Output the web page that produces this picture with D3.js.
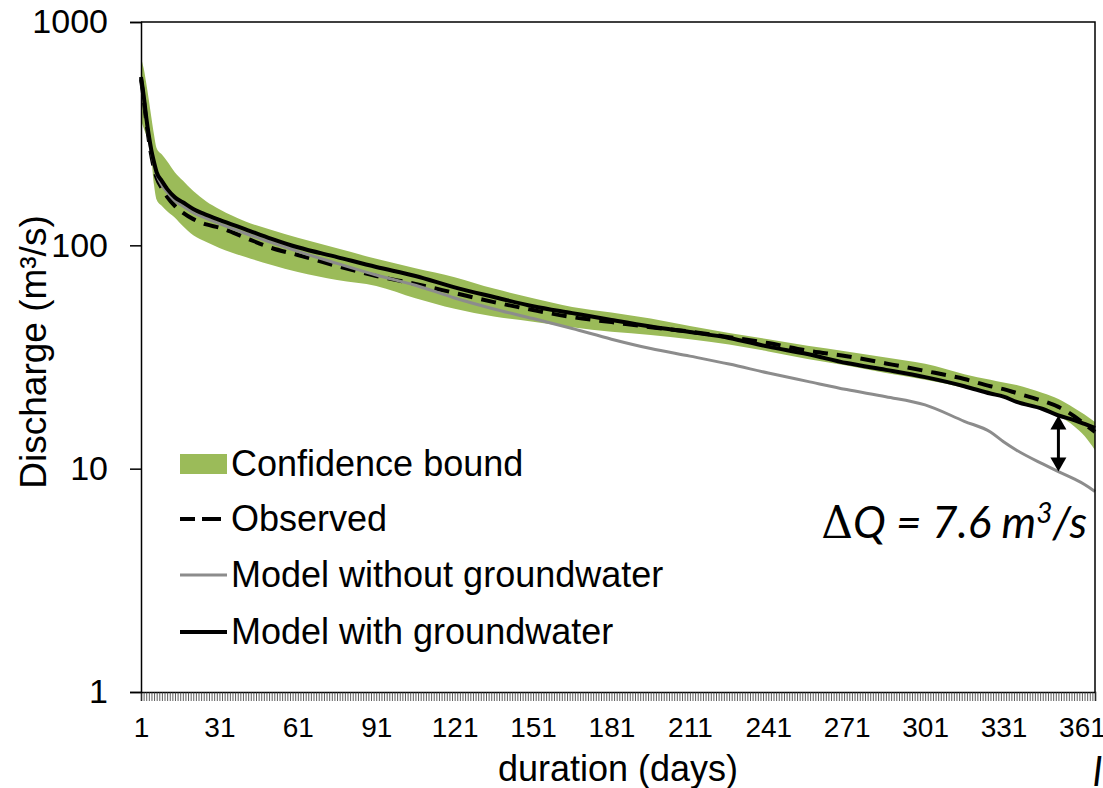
<!DOCTYPE html>
<html>
<head>
<meta charset="utf-8">
<script src="https://cdn.jsdelivr.net/npm/d3@7"></script>
<style>
  html, body { margin: 0; padding: 0; background: #fff; }
  svg { display: block; font-family: "Liberation Sans", Arial, sans-serif; }
</style>
</head>
<body>
<svg id="chart" width="1103" height="788"></svg>
<script>
// Flow duration curve: day of exceedance vs discharge (m3/s)
const days       = [1, 2, 3, 4, 5, 6, 7, 9, 11, 14, 17, 21, 26, 31, 41, 51, 61, 76, 91, 106, 121, 136, 151, 166, 181, 196, 211, 226, 241, 256, 271, 286, 301, 316, 326, 331, 336, 346, 352, 358, 362, 366];
const observed   = [555, 455, 360, 295, 250, 220, 200, 180, 165, 150, 140, 131, 124, 120, 108, 97.3, 90.5, 80.8, 72.9, 67.2, 61.2, 55.7, 51.3, 47.7, 45.3, 43.0, 41.1, 38.8, 36.5, 33.8, 31.9, 29.6, 27.4, 25.2, 23.4, 22.7, 21.8, 20.1, 18.9, 17.2, 15.85, 14.6];
const modelNoGw  = [560, 465, 370, 305, 260, 230, 208, 186, 173, 158, 150, 140, 132, 125, 113, 103, 94, 83, 73.6, 66.3, 58.1, 51.9, 47.0, 42.4, 38.0, 34.5, 31.9, 29.4, 26.8, 24.6, 22.6, 21.0, 19.3, 16.3, 14.6, 13.2, 12.1, 10.5, 9.7, 9.0, 8.5, 7.9];
const modelGw    = [567, 470, 375, 310, 265, 235, 212, 194, 179, 164, 156, 145.5, 137, 130, 118, 107, 98, 88.6, 80, 72.9, 64.8, 58.7, 53.4, 49.7, 46.3, 43.3, 40.9, 38.5, 35.2, 32.6, 29.7, 27.7, 25.7, 23.4, 21.7, 21.0, 19.9, 18.5, 17.3, 16.5, 15.85, 15.2];
const ciUpper    = [690, 622, 533, 448, 372, 312, 272, 255, 238, 212, 195, 175, 157, 145, 128, 117, 108, 97, 87, 79, 72, 64, 58, 53, 50, 47, 43.5, 40.5, 38, 35.5, 33.5, 31.5, 29.5, 26.5, 25, 24.3, 23.7, 21.8, 20.5, 18.7, 17.5, 16.2];
const ciLower    = [364, 335, 312, 290, 241, 186, 160, 150, 142, 133, 122, 111, 103.5, 97.3, 88.6, 81.7, 76, 70, 65.8, 58, 52, 48, 45.5, 43, 41, 39.7, 38, 36, 33.5, 31, 29, 26.8, 25, 23, 21.5, 20.8, 20.2, 18.3, 17.2, 15.5, 14, 12.1];

const yTicks = [1, 10, 100, 1000];
const xTickLabels = [1, 31, 61, 91, 121, 151, 181, 211, 241, 271, 301, 331, 361];
const legendLabels = ["Confidence bound", "Observed", "Model without groundwater", "Model with groundwater"];
const arrowDay = 352;

const green = "#9bbb59", grey = "#8c8c8c", black = "#000";

const svg = d3.select("#chart");
const margin = { left: 141, right: 1095, top: 22, bottom: 692 };

const x = d3.scaleLinear().domain([1, 366]).range([margin.left, margin.right]);
const y = d3.scaleLog().domain([1, 1000]).range([margin.bottom, margin.top]);

const rows = days.map((d, i) => ({
  d, obs: observed[i], noGw: modelNoGw[i], gw: modelGw[i], lo: ciLower[i], hi: ciUpper[i]
}));

// confidence band
svg.append("path")
  .datum(rows)
  .attr("fill", green)
  .attr("d", d3.area().curve(d3.curveMonotoneX)
    .x(r => x(r.d)).y0(r => y(r.lo)).y1(r => y(r.hi)));

const line = key => d3.line().curve(d3.curveMonotoneX).x(r => x(r.d)).y(r => y(r[key]));

svg.append("path").datum(rows).attr("fill", "none")
  .attr("stroke", black).attr("stroke-width", 4).attr("stroke-dasharray", "15,9")
  .attr("d", line("obs"));
svg.append("path").datum(rows).attr("fill", "none")
  .attr("stroke", grey).attr("stroke-width", 3)
  .attr("d", line("noGw"));
svg.append("path").datum(rows).attr("fill", "none")
  .attr("stroke", black).attr("stroke-width", 4).attr("stroke-linejoin", "round")
  .attr("d", line("gw"));

// frame: top and right edges
svg.append("path")
  .attr("d", `M${margin.left},${margin.top}H${margin.right}V${margin.bottom}`)
  .attr("fill", "none").attr("stroke", "#000").attr("stroke-width", 1.5);

// x axis: one tick per day, labels every 30 days
const xAxis = d3.axisBottom(x)
  .tickValues(d3.range(1, 367))
  .tickSize(9).tickPadding(16)
  .tickFormat(d => xTickLabels.includes(d) ? d : "");
const gx = svg.append("g").attr("transform", `translate(0,${margin.bottom})`).call(xAxis);
gx.select(".domain").attr("stroke", "#000").attr("stroke-width", 1.5);
gx.selectAll(".tick line").attr("stroke", "#333").attr("stroke-width", 0.8);
gx.selectAll(".tick text").attr("font-size", 28).attr("fill", "#000")
  .attr("font-family", "Liberation Sans, Arial, sans-serif");

// y axis (log)
const yAxis = d3.axisLeft(y).tickValues(yTicks).tickSize(11).tickPadding(22)
  .tickFormat(d3.format("d"));
const gy = svg.append("g").attr("transform", `translate(${margin.left},0)`).call(yAxis);
gy.select(".domain").attr("stroke", "#000").attr("stroke-width", 1.5);
gy.selectAll(".tick line").attr("stroke", "#000").attr("stroke-width", 1.5);
gy.selectAll(".tick text").attr("font-size", 34).attr("fill", "#000")
  .attr("font-family", "Liberation Sans, Arial, sans-serif");

// axis titles
svg.append("text")
  .attr("x", 618).attr("y", 781)
  .attr("text-anchor", "middle").attr("font-size", 36)
  .text("duration (days)");
svg.append("text")
  .attr("transform", "translate(46,352) rotate(-90)")
  .attr("text-anchor", "middle").attr("font-size", 37)
  .text("Discharge (m³/s)");

// legend
const lg = svg.append("g");
const legendY = [464, 519, 575, 632];
legendLabels.forEach((label, i) => {
  const cy = legendY[i];
  if (i === 0) {
    lg.append("rect").attr("x", 180).attr("y", cy - 10).attr("width", 47).attr("height", 20).attr("fill", green);
  } else {
    lg.append("line").attr("x1", 180).attr("x2", 227).attr("y1", cy).attr("y2", cy)
      .attr("stroke", i === 2 ? grey : black)
      .attr("stroke-width", i === 2 ? 3 : 4)
      .attr("stroke-dasharray", i === 1 ? "15,7,19,6" : null);
  }
  lg.append("text").attr("x", 231).attr("y", cy + 12)
    .attr("font-size", 36).text(label);
});

// difference arrow between the two model runs
const ai = days.indexOf(arrowDay);
const ax = x(arrowDay);
const yTop = y(modelGw[ai]), yBot = y(modelNoGw[ai]);
const head = 14, hw = 8;
svg.append("line").attr("x1", ax).attr("x2", ax).attr("y1", yTop + head - 2).attr("y2", yBot - head + 2)
  .attr("stroke", "#000").attr("stroke-width", 3);
svg.append("path")
  .attr("d", `M${ax},${yTop}L${ax - hw},${yTop + head}L${ax + hw},${yTop + head}Z`).attr("fill", "#000");
svg.append("path")
  .attr("d", `M${ax},${yBot}L${ax - hw},${yBot - head}L${ax + hw},${yBot - head}Z`).attr("fill", "#000");

const dq = d3.format(".1f")(modelGw[ai] - modelNoGw[ai]);
const note = svg.append("text")
  .attr("x", 1087).attr("y", 538).attr("text-anchor", "end")
  .attr("font-family", "Lato, 'Open Sans', sans-serif").attr("font-size", 44);
note.append("tspan").attr("font-family", "'DejaVu Serif', serif").attr("font-style", "normal").text("Δ");
note.append("tspan").attr("font-style", "italic").text(`Q = ${dq} m`);
note.append("tspan").attr("font-style", "italic").attr("font-size", 28).attr("dy", -15).text("3");
note.append("tspan").attr("font-style", "italic").attr("dy", 15).text("/s");

// clipped character at the lower right edge
svg.append("text").attr("x", 1093).attr("y", 786)
  .attr("font-family", "Lato, sans-serif").attr("font-style", "italic").attr("font-size", 40)
  .text("l");
</script>
</body>
</html>
